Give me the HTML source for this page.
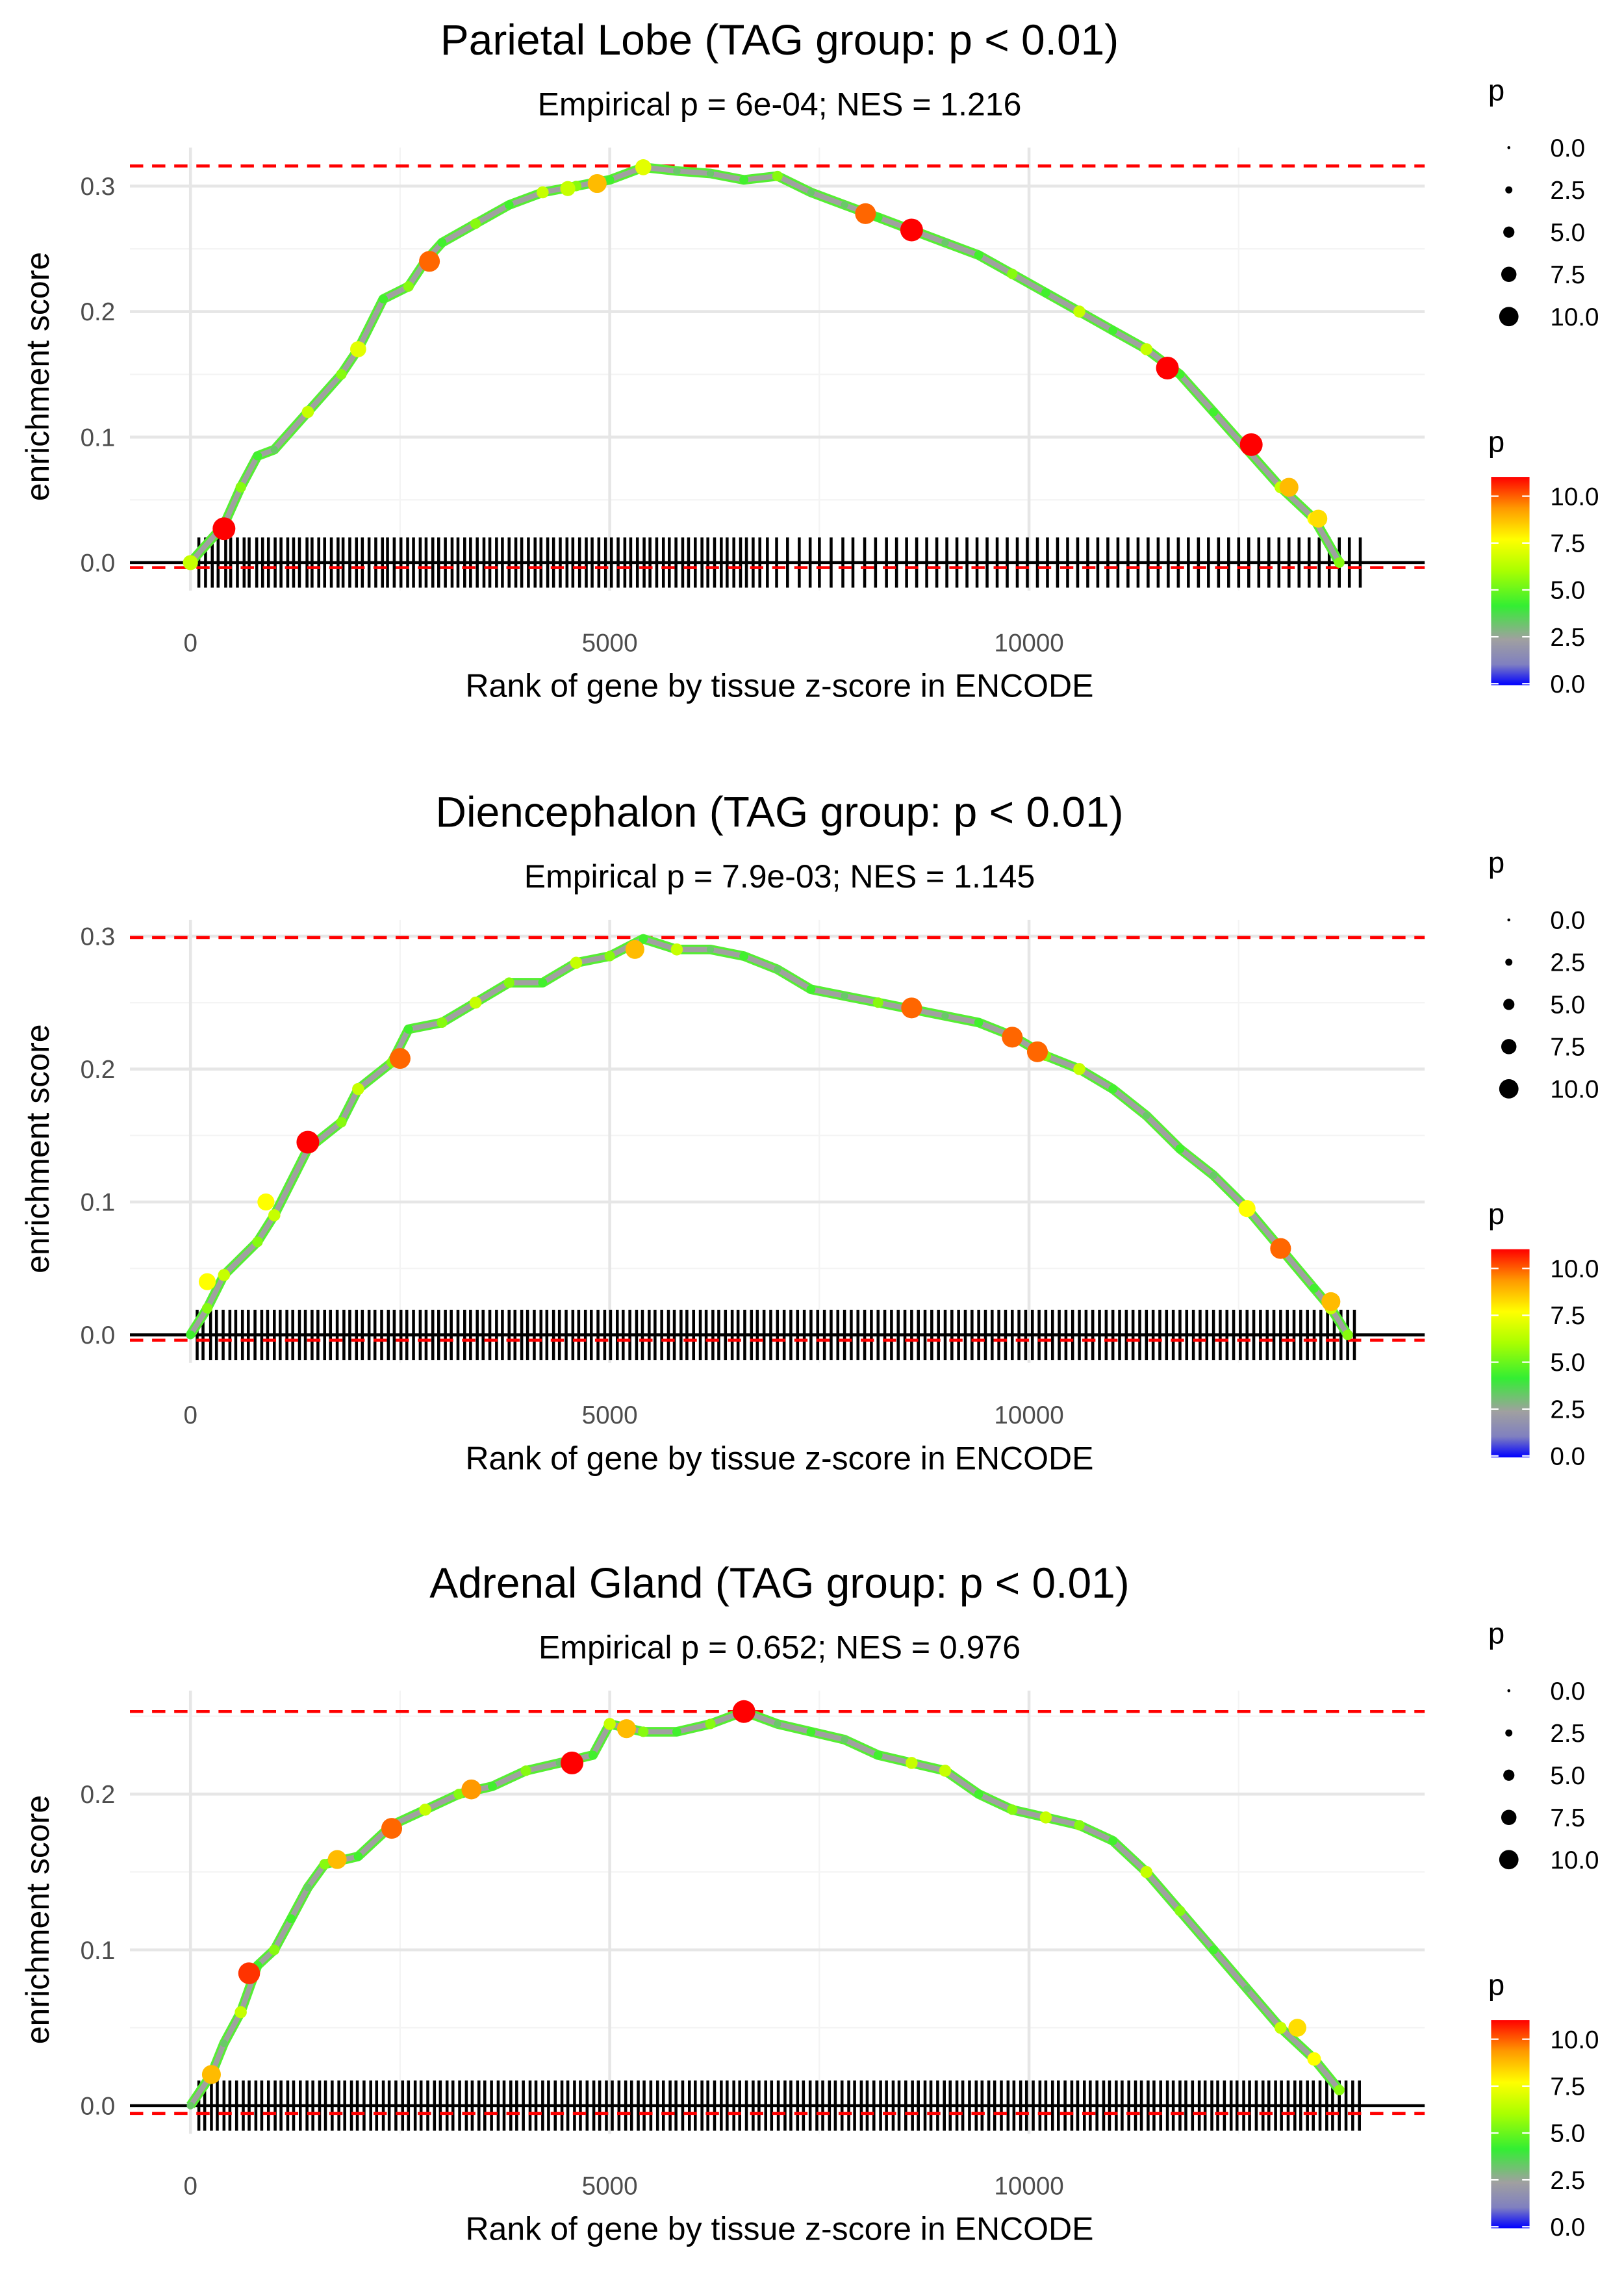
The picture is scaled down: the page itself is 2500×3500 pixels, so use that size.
<!DOCTYPE html>
<html><head><meta charset="utf-8"><style>
html,body{margin:0;padding:0;background:#fff;}
svg{display:block;font-family:"Liberation Sans",Arial,sans-serif;}
</style></head><body>
<svg id="chart" width="2500" height="3500" viewBox="0 0 1100 1540" xmlns="http://www.w3.org/2000/svg">
<defs>
<linearGradient id="pgrad" x1="0" y1="1" x2="0" y2="0">
<stop offset="0" stop-color="#0000ff"/><stop offset="0.1" stop-color="#8080c0"/>
<stop offset="0.22" stop-color="#a0a0a0"/><stop offset="0.38" stop-color="#33ee33"/>
<stop offset="0.55" stop-color="#aaff00"/><stop offset="0.7" stop-color="#ffff00"/>
<stop offset="0.85" stop-color="#ff9900"/><stop offset="1" stop-color="#ff0000"/>
</linearGradient>
</defs>
</svg>
<script>
// ---- data ----
const titles = ["Parietal Lobe (TAG group: p < 0.01)","Diencephalon (TAG group: p < 0.01)","Adrenal Gland (TAG group: p < 0.01)"];
const subtitles = ["Empirical p = 6e-04; NES = 1.216","Empirical p = 7.9e-03; NES = 1.145","Empirical p = 0.652; NES = 0.976"];
const xTicks = [0,5000,10000];
const xTickLabels = ["0","5000","10000"];
const yTicks1 = [0,0.1,0.2,0.3], yTicks2 = [0,0.1,0.2,0.3], yTicks3 = [0,0.1,0.2];
const maxES = [0.316,0.299,0.253];
const minES = [-0.004,-0.004,-0.005];
const rank1 = [0,400,600,800,1000,1400,1800,2000,2300,2600,2800,3000,3400,3800,4200,4600,5000,5400,5800,6200,6600,7000,7400,7800,8200,8600,9000,9400,9800,10200,10600,11000,11400,11800,12200,12600,13000,13400,13700];
const es1 = [0,0.03,0.06,0.085,0.09,0.12,0.15,0.17,0.21,0.22,0.24,0.255,0.27,0.285,0.295,0.3,0.305,0.315,0.312,0.31,0.305,0.308,0.295,0.285,0.275,0.265,0.255,0.245,0.23,0.215,0.2,0.185,0.17,0.15,0.12,0.09,0.06,0.035,0];
const curveP1 = [6,4,5,4,3,6,5,6,4,5,3,4,5,4,6,5,4,3,3,3,4,5,3,3,4,3,3,4,5,4,6,4,6,4,4,3,6,7,5];
const rank2 = [0,200,400,800,1000,1400,1800,2000,2400,2600,3000,3400,3800,4200,4600,5000,5400,5800,6200,6600,7000,7400,7800,8200,8600,9000,9400,9800,10200,10600,11000,11400,11800,12200,12600,13000,13400,13600,13800];
const es2 = [0,0.02,0.045,0.07,0.09,0.14,0.16,0.185,0.205,0.23,0.235,0.25,0.265,0.265,0.28,0.285,0.298,0.29,0.29,0.285,0.275,0.26,0.255,0.25,0.245,0.24,0.235,0.225,0.21,0.2,0.185,0.165,0.14,0.12,0.095,0.065,0.035,0.02,0];
const curveP2 = [4,5,6,5,6,4,5,6,5,4,5,6,5,4,6,5,4,6,3,4,3,4,3,5,4,3,4,6,5,6,4,3,4,3,6,5,4,6,5];
const rank3 = [0,250,400,600,800,1000,1200,1400,1600,2000,2400,2800,3200,3600,4000,4400,4800,5000,5400,5800,6200,6600,7000,7400,7800,8200,8600,9000,9400,9800,10200,10600,11000,11400,11800,12200,12600,13000,13400,13700];
const es3 = [0,0.02,0.04,0.06,0.09,0.1,0.12,0.14,0.155,0.16,0.18,0.19,0.2,0.205,0.215,0.22,0.225,0.245,0.24,0.24,0.245,0.253,0.245,0.24,0.235,0.225,0.22,0.215,0.2,0.19,0.185,0.18,0.17,0.15,0.125,0.1,0.075,0.05,0.03,0.01];
const curveP3 = [3,5,3,6,4,5,4,3,5,4,4,6,5,4,5,3,4,6,5,4,5,4,3,4,3,4,6,6,4,5,6,5,4,6,5,4,3,6,7,5];
const bigRank1 = [0,2000,4500,5400,400,2850,4850,8050,8600,11650,12650,13100,13450];
const bigES1 = [0,0.17,0.298,0.315,0.027,0.24,0.302,0.278,0.265,0.155,0.094,0.06,0.035];
const bigP1 = [6,6.5,6,6.5,10,9,8,9,10,10,10,8,7.5];
const bigRank2 = [200,900,12600,1400,2500,5300,8600,9800,10100,13000,13600];
const bigES2 = [0.04,0.1,0.095,0.145,0.208,0.29,0.246,0.224,0.213,0.065,0.025];
const bigP2 = [7,7,7,10,9,8,9,9,9,9,8];
const bigRank3 = [250,13200,700,1750,2400,3350,4550,5200,6600];
const bigES3 = [0.02,0.05,0.085,0.158,0.178,0.203,0.22,0.242,0.253];
const bigP3 = [8,7.5,9.5,8,9,8.5,10,8,10];
const rugA = [100,180,260,330,420,480,560,640,700,790,860,930,1010,1080,1160,1230,1300,1390,1450,1530,1600,1680,1760,1820,1900,1980,2050,2130,2210,2290,2350,2430,2510,2590,2660,2740,2810,2890,2960,3040,3120,3190,3270,3340,3420,3500,3570,3650,3720,3800,3880,3950,4030,4110,4180,4260,4330,4410,4490,4560,4640,4720,4790,4870,4950,5020,5100,5180,5250,5330,5410,5480,5560,5640,5710,5790,5870,5940,6020,6100,6170,6250,6330,6400,6480,6560,6630,6710,6790,6880,6990,7120,7260,7390,7500,7640,7780,7900,8040,8170,8300,8420,8540,8660,8780,8900,9020,9140,9260,9380,9500,9620,9740,9860,9980,10100,10220,10340,10460,10580,10700,10820,10940,11060,11180,11300,11420,11540,11660,11780,11900,12020,12140,12260,12380,12500,12620,12740,12860,12980,13100,13220,13340,13460,13580,13700,13820,13950];
const rugB = [80,150,240,310,390,470,540,620,690,770,850,920,1000,1070,1150,1220,1300,1370,1450,1520,1600,1670,1750,1830,1900,1980,2050,2130,2200,2280,2360,2430,2510,2580,2660,2740,2810,2890,2960,3040,3110,3190,3270,3340,3420,3490,3570,3650,3720,3800,3870,3950,4020,4100,4180,4250,4330,4400,4480,4560,4630,4710,4780,4860,4940,5010,5090,5160,5240,5320,5390,5470,5540,5620,5700,5770,5850,5920,6000,6080,6150,6230,6300,6380,6460,6530,6610,6690,6760,6840,6920,7000,7080,7160,7240,7320,7400,7480,7560,7640,7720,7800,7880,7960,8040,8120,8200,8280,8360,8440,8520,8600,8680,8760,8840,8920,9000,9080,9160,9240,9320,9400,9480,9560,9640,9720,9800,9880,9960,10040,10120,10200,10280,10360,10440,10520,10600,10680,10760,10840,10920,11000,11080,11160,11240,11320,11400,11480,11560,11640,11720,11800,11880,11960,12040,12120,12200,12280,12360,12440,12520,12600,12680,12760,12840,12920,13000,13080,13160,13240,13320,13400,13480,13560,13640,13720,13800,13880];
const rugC = [100,170,250,320,400,470,550,630,700,780,850,930,1010,1080,1160,1230,1310,1390,1460,1540,1610,1690,1770,1840,1920,1990,2070,2150,2220,2300,2370,2450,2530,2600,2680,2750,2830,2910,2980,3060,3130,3210,3290,3360,3440,3510,3590,3670,3740,3820,3890,3970,4050,4120,4200,4270,4350,4430,4500,4580,4650,4730,4810,4880,4960,5030,5110,5190,5260,5340,5410,5490,5570,5640,5720,5790,5870,5950,6020,6100,6170,6250,6330,6400,6480,6550,6630,6710,6780,6860,6930,7010,7090,7160,7240,7310,7390,7470,7540,7620,7690,7770,7850,7920,8000,8070,8150,8230,8300,8380,8450,8530,8610,8680,8760,8830,8910,8990,9060,9140,9210,9290,9370,9440,9520,9590,9670,9750,9820,9900,9970,10050,10130,10200,10280,10350,10430,10510,10580,10660,10730,10810,10890,10960,11040,11110,11190,11270,11340,11420,11490,11570,11650,11720,11800,11870,11950,12030,12100,12180,12250,12330,12410,12480,12560,12630,12710,12790,12860,12940,13010,13090,13170,13240,13320,13390,13470,13550,13620,13700,13780,13860,13940];
const legendSizes = [0,2.5,5,7.5,10];
const legendLabels = ["0.0","2.5","5.0","7.5","10.0"];

// ---- geometry ----
const panels = [
 {off:0, y0:381, pxPer:850, ranks:rank1, es:es1, cp:curveP1, br:bigRank1, be:bigES1, bp:bigP1, rug:rugA, yt:yTicks1},
 {off:523, y0:904-523, pxPer:900, ranks:rank2, es:es2, cp:curveP2, br:bigRank2, be:bigES2, bp:bigP2, rug:rugB, yt:yTicks2},
 {off:1045, y0:1426-1045, pxPer:1055, ranks:rank3, es:es3, cp:curveP3, br:bigRank3, be:bigES3, bp:bigP3, rug:rugC, yt:yTicks3}
];
const svg = document.getElementById('chart');
const NS = "http://www.w3.org/2000/svg";
function mk(tag, attrs, parent){const e=document.createElementNS(NS,tag);for(const k in attrs)e.setAttribute(k,attrs[k]);(parent||svg).appendChild(e);return e;}
const xs = r => 129 + r*0.0568;
function pColor(p){
  const stops=[[0,[0,0,255]],[1,[128,128,192]],[2.2,[160,160,160]],[3.8,[51,238,51]],[5.5,[170,255,0]],[7,[255,255,0]],[8.5,[255,153,0]],[10,[255,0,0]]];
  for(let i=1;i<stops.length;i++){if(p<=stops[i][0]){const a=stops[i-1],b=stops[i],t=(p-a[0])/(b[0]-a[0]);return 'rgb('+a[1].map((v,j)=>Math.round(v+(b[1][j]-v)*t)).join(',')+')';}}
  return 'rgb(255,0,0)';
}
const rad = p => 1.2 + 0.65*p;

panels.forEach((P,i)=>{
  const g = mk('g',{transform:'translate(0,'+P.off+')'});
  
  
  const ys = v => P.y0 - v*P.pxPer;
  [2500,7500,12500].forEach(t=>{const l=mk('line',{x1:xs(t),x2:xs(t),y1:100,y2:400,stroke:'#f4f4f4','stroke-width':1},g);});
  [0.05,0.15,0.25].forEach(t=>{if(ys(t)>100){const l=mk('line',{x1:88,x2:965,y1:ys(t),y2:ys(t),stroke:'#f4f4f4','stroke-width':1},g);}});
  xTicks.forEach((t,k)=>{
    const l=mk('line',{x1:xs(t),x2:xs(t),y1:100,y2:400,stroke:'#e6e6e6','stroke-width':2},g);
    
    const tx=mk('text',{x:xs(t),y:441,'text-anchor':'middle','font-size':17,fill:'#4d4d4d'},g);tx.textContent=xTickLabels[k];
    
  });
  P.yt.forEach(t=>{
    const l=mk('line',{x1:88,x2:965,y1:ys(t),y2:ys(t),stroke:'#e6e6e6','stroke-width':2},g);
    
    const tx=mk('text',{x:78,y:ys(t)+6,'text-anchor':'end','font-size':17,fill:'#4d4d4d'},g);tx.textContent=t.toFixed(1);
    
  });
  P.rug.forEach(r=>{const l=mk('line',{x1:xs(r),x2:xs(r),y1:364,y2:398,stroke:'#000','stroke-width':2},g);});
  const z=mk('line',{x1:88,x2:965,y1:ys(0),y2:ys(0),stroke:'#000','stroke-width':2},g);
  [maxES[i],minES[i]].forEach(v=>{const d=mk('line',{x1:88,x2:965,y1:ys(v),y2:ys(v),stroke:'#ff0000','stroke-width':2,'stroke-dasharray':'9,6'},g);});
  const pts=P.ranks.map((r,k)=>xs(r).toFixed(1)+','+ys(P.es[k]).toFixed(1)).join(' ');
  const c1=mk('polyline',{points:pts,fill:'none',stroke:'#55ee33','stroke-width':6.5,'stroke-linejoin':'round'},g);
  const c2=mk('polyline',{points:pts,fill:'none',stroke:'#a0a0a0','stroke-width':3.5,'stroke-linejoin':'round'},g);
  P.ranks.forEach((r,k)=>{const c=mk('circle',{cx:xs(r),cy:ys(P.es[k]),r:rad(P.cp[k])*0.8,fill:pColor(P.cp[k])},g);});
  P.br.forEach((r,k)=>{const c=mk('circle',{cx:xs(r),cy:ys(P.be[k]),r:rad(P.bp[k]),fill:pColor(P.bp[k])},g);});
  const t=mk('text',{x:528,y:37,'text-anchor':'middle','font-size':29},g);t.textContent=titles[i];
  const s=mk('text',{x:528,y:78,'text-anchor':'middle','font-size':22},g);s.textContent=subtitles[i];
  const xt=mk('text',{x:528,y:472,'text-anchor':'middle','font-size':22},g);xt.textContent='Rank of gene by tissue z-score in ENCODE';
  const yt=mk('text',{x:0,y:0,'text-anchor':'middle','font-size':22,transform:'translate(33,255) rotate(-90)'},g);yt.textContent='enrichment score';
  const lt=mk('text',{x:1008,y:68,'font-size':20},g);lt.textContent='p';
  legendSizes.forEach((v,k)=>{const yy=100+k*28.6;
    const c=mk('circle',{cx:1022,cy:yy,r:v===0?1:rad(v)*0.85,fill:'#000'},g);
    const tx=mk('text',{x:1050,y:yy+6,'font-size':17},g);tx.textContent=legendLabels[k];});
  const ct=mk('text',{x:1008,y:306,'font-size':20},g);ct.textContent='p';
  const bar=mk('rect',{x:1010,y:323,width:26,height:141,fill:'url(#pgrad)'},g);
  legendSizes.forEach((v,k)=>{const yy=463-v*12.7;
    mk('line',{x1:1010,x2:1015,y1:yy,y2:yy,stroke:'#fff','stroke-width':1},g);mk('line',{x1:1031,x2:1036,y1:yy,y2:yy,stroke:'#fff','stroke-width':1},g);
    const tx=mk('text',{x:1050,y:yy+6,'font-size':17},g);tx.textContent=legendLabels[k];});
});
</script>
</body></html>
